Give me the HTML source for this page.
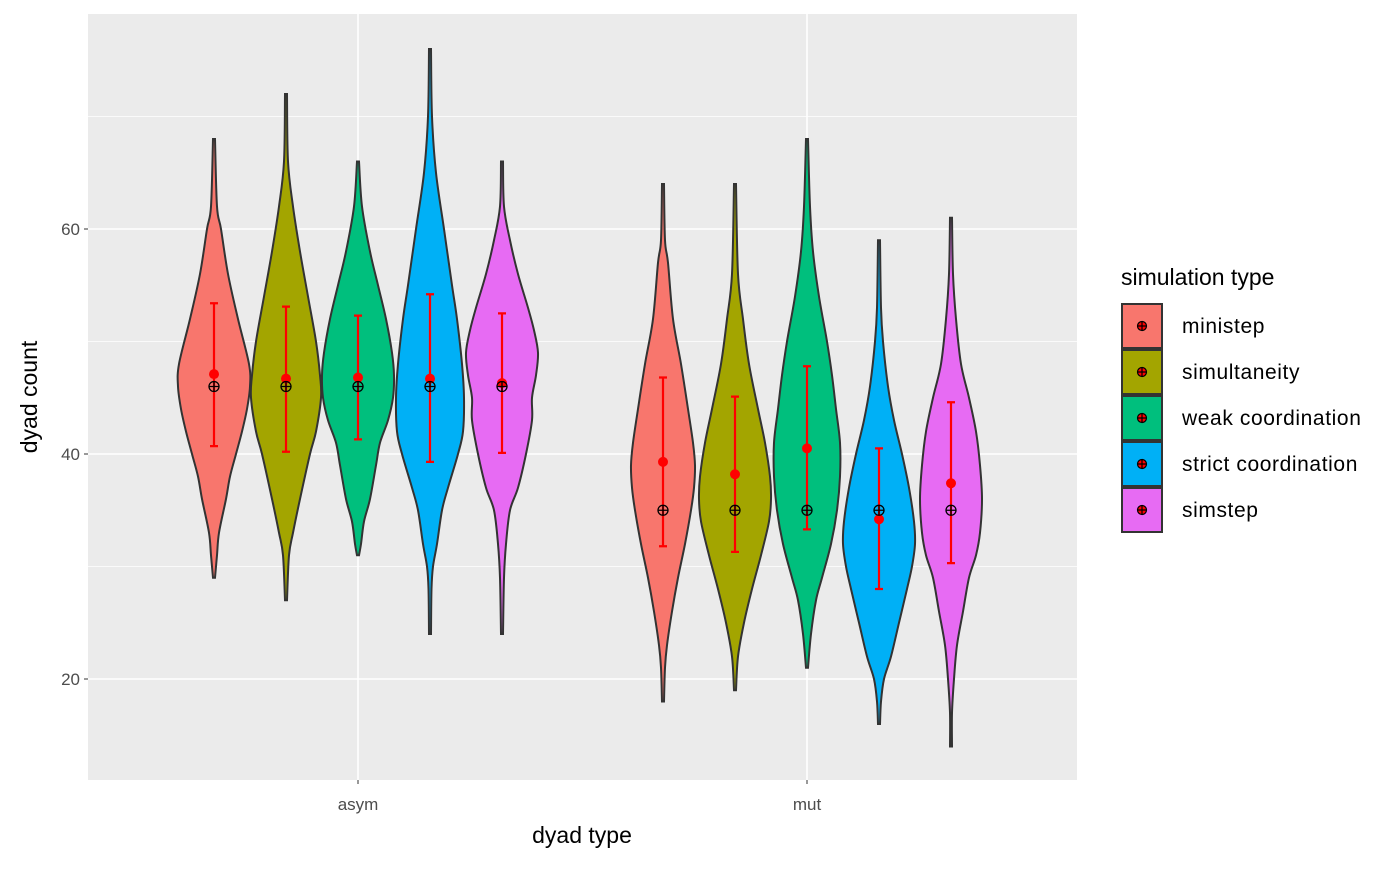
<!DOCTYPE html>
<html><head><meta charset="utf-8"><style>
body{margin:0;background:#fff;font-family:"Liberation Sans",Arial,sans-serif}
</style></head><body>
<svg id="chart" width="1400" height="865" xmlns="http://www.w3.org/2000/svg"></svg>
<script>
const groups=["asym","mut"];
const types=["ministep","simultaneity","weak coordination","strict coordination","simstep"];
const colors=["#F8766D","#A3A500","#00BF7D","#00B0F6","#E76BF3"];
const yTicks=[20,40,60];
const yMinor=[30,50,70];
// density profiles: [value, half-width px] per violin, order asym x5 then mut x5
const profiles=[
[[68,1],[62,3],[60,7],[56,14],[52,24],[48,35],[46,36],[44,33],[42,28],[40,22],[38,16],[36,12],[33,5],[31,3],[29,1]],
[[72,1],[66,2],[62,7],[58,14],[54,22],[50,30],[47,34],[45,35],[42,30],[40,24],[36,14],[33,7],[31,3],[27,1]],
[[66,1],[62,4],[58,12],[55,20],[52,28],[49,34],[47,36],[45,35],[43,30],[41,22],[39,18],[36,12],[34,6],[32,3],[31,1]],
[[76,1],[70,2],[65,6],[60,14],[55,22],[52,27],[48,32],[45,34],[42,33],[40,28],[37,18],[35,12],[32,7],[30,3],[28,1.5],[24,1]],
[[66,1],[62,2],[59,8],[56,16],[53,26],[51,32],[49,36],[47,34],[45,30],[43,30],[40,24],[37,16],[35,8],[32,4],[29,2],[24,1]],
[[64,1],[59,2],[57,5],[52,10],[48,18],[44,25],[41,30],[39,32],[37,31],[35,28],[32,22],[29,15],[26,9],[23,4],[21,2],[18,1]],
[[64,1],[56,3],[52,8],[48,14],[44,23],[41,30],[38,35],[36,36],[34,34],[31,26],[28,17],[25,9],[22,3],[19,1]],
[[68,1],[62,3],[58,6],[54,12],[50,20],[47,25],[44,29],[41,33],[38,33],[35,30],[32,24],[29,15],[27,9],[24,4],[21,1]],
[[59,1],[53,2],[50,4],[46,9],[43,15],[40,23],[37,30],[34,35],[32,36],[30,33],[28,28],[25,20],[22,12],[20,5],[18,2],[16,1]],
[[61,1],[56,2],[52,5],[48,10],[45,18],[42,25],[39,29],[36,31],[33,29],[31,25],[29,18],[26,12],[23,6],[20,3],[17,1],[14,1]]
];
const means=[47.1,46.7,46.8,46.7,46.3,39.3,38.2,40.5,34.2,37.4];
const lows=[40.7,40.2,41.3,39.3,40.1,31.8,31.3,33.3,28,30.3];
const highs=[53.4,53.1,52.3,54.2,52.5,46.8,45.1,47.8,40.5,44.6];
const medians=[46,46,46,46,46,35,35,35,35,35];

const NS="http://www.w3.org/2000/svg";
const svg=document.getElementById('chart');
const P={l:88,r:1077,t:14,b:780};
const y=v=>679-(v-20)*11.25;
const groupX=g=>358+g*449;
const dodge=i=>(i-2)*72;
function el(t,a,p){const e=document.createElementNS(NS,t);for(const k in a)e.setAttribute(k,a[k]);(p||svg).appendChild(e);return e;}

const bg=el('rect',{x:P.l,y:P.t,width:P.r-P.l,height:P.b-P.t,fill:'#EBEBEB'});


yMinor.forEach(v=>{const l=el('line',{x1:P.l,x2:P.r,y1:y(v),y2:y(v),stroke:'#fff','stroke-width':0.8});

});
yTicks.forEach(v=>{const l=el('line',{x1:P.l,x2:P.r,y1:y(v),y2:y(v),stroke:'#fff','stroke-width':1.6});


const t=el('text',{x:80,y:y(v)+6,'text-anchor':'end','font-size':17,fill:'#4D4D4D'});t.textContent=v;


el('line',{x1:84,x2:88,y1:y(v),y2:y(v),stroke:'#333','stroke-width':1});});
groups.forEach((g,gi)=>{const x=groupX(gi);
const l=el('line',{x1:x,x2:x,y1:P.t,y2:P.b,stroke:'#fff','stroke-width':1.6});


el('line',{x1:x,x2:x,y1:P.b,y2:P.b+4,stroke:'#333'});
const t=el('text',{x:x,y:810,'text-anchor':'middle','font-size':17,fill:'#4D4D4D'});t.textContent=g;

});

function spline(pts){let d=`M${pts[0][0]},${pts[0][1]}`;
for(let i=0;i<pts.length-1;i++){const p0=pts[Math.max(0,i-1)],p1=pts[i],p2=pts[i+1],p3=pts[Math.min(pts.length-1,i+2)];
const c1=[p1[0]+(p2[0]-p0[0])/6,p1[1]+(p2[1]-p0[1])/6],c2=[p2[0]-(p3[0]-p1[0])/6,p2[1]-(p3[1]-p1[1])/6];
d+=` C${c1[0]},${c1[1]} ${c2[0]},${c2[1]} ${p2[0]},${p2[1]}`;}return d;}

profiles.forEach((prof,k)=>{const gi=Math.floor(k/5),i=k%5,cx=groupX(gi)+dodge(i);
const right=prof.map(([v,w])=>[cx+w,y(v)]);
const left=prof.slice().reverse().map(([v,w])=>[cx-w,y(v)]);
const d=spline(right)+' L'+spline(left).slice(1)+' Z';
const p=el('path',{d,fill:colors[i],stroke:'#333','stroke-width':2});


const eb=el('path',{d:`M${cx-4},${y(highs[k])}H${cx+4}M${cx},${y(highs[k])}V${y(lows[k])}M${cx-4},${y(lows[k])}H${cx+4}`,stroke:'#FF0000','stroke-width':2.2,fill:'none'});


const m=el('circle',{cx,cy:y(means[k]),r:5,fill:'#FF0000'});


const my=y(medians[k]);
const md=el('g',{});


el('circle',{cx,cy:my,r:5,fill:'none',stroke:'#000','stroke-width':1.3},md);
el('path',{d:`M${cx-5},${my}H${cx+5}M${cx},${my-5}V${my+5}`,stroke:'#000','stroke-width':1.3},md);
});

let t=el('text',{x:582,y:843,'text-anchor':'middle','font-size':23,fill:'#000'});t.textContent='dyad type';

t=el('text',{x:0,y:0,transform:'translate(37,397) rotate(-90)','text-anchor':'middle','font-size':23,fill:'#000'});t.textContent='dyad count';

t=el('text',{x:1121,y:285,'font-size':23,fill:'#000'});t.textContent='simulation type';

types.forEach((n,i)=>{const cy=326+i*46;
const g=el('g',{});


el('rect',{x:1122,y:cy-22,width:40,height:44,fill:colors[i],stroke:'#333','stroke-width':2},g);
el('circle',{cx:1142,cy,r:4.5,fill:'#FF0000',stroke:'#000','stroke-width':1.2},g);
el('path',{d:`M1137.5,${cy}H1146.5M1142,${cy-4.5}V${cy+4.5}`,stroke:'#000','stroke-width':1.2},g);
const tt=el('text',{x:1182,y:cy+7,'font-size':21,'letter-spacing':0.6,fill:'#000'},g);tt.textContent=n;});
</script>
</body></html>
